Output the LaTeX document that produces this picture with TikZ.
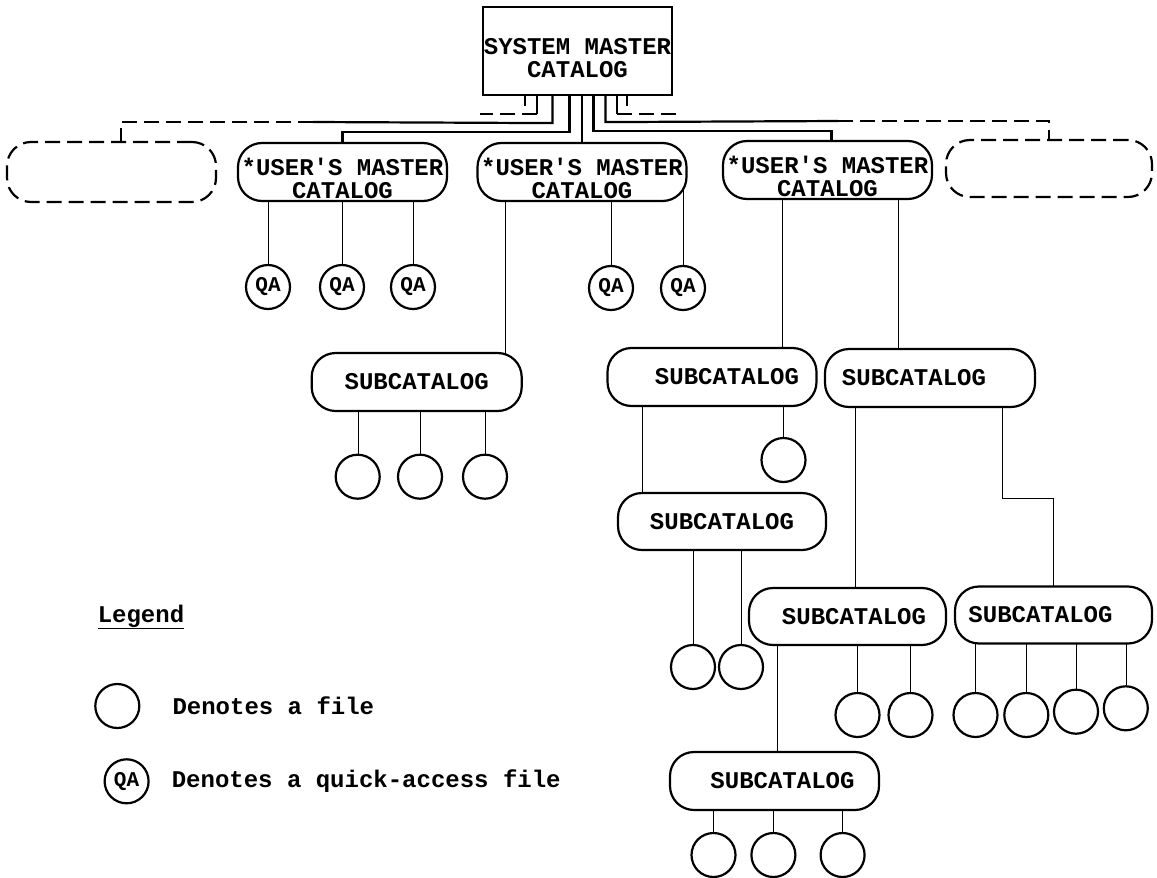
\documentclass[tikz,border=0pt]{standalone}
\usepackage{fontspec}
\setmonofont{Liberation Mono}
\usetikzlibrary{positioning,calc,backgrounds}

\tikzset{
  catbox/.style={draw, fill=white, rounded corners=24pt, minimum height=58pt, inner sep=0pt,
    font=\ttfamily\bfseries\fontsize{24}{23}\selectfont},
  usercat/.style={catbox, minimum width=209pt, align=center},
  ghost/.style={catbox, dash pattern=on 15pt off 7pt},
  dashline/.style={dash pattern=on 15pt off 7pt},
  file/.style={draw, circle, fill=white, minimum size=44pt, inner sep=0pt},
  qafile/.style={file, font=\ttfamily\bfseries\fontsize{21}{21}\selectfont},
  legtext/.style={inner sep=0pt, font=\ttfamily\bfseries\fontsize{24}{24}\selectfont}
}
% invisible strut that pushes a two line label down in its box
\newcommand{\lowstrut}[1]{\rule{0pt}{#1}}

\begin{document}
\begin{tikzpicture}[x=1pt,y=-1pt,line width=2.2pt]
\useasboundingbox (0,0) rectangle (1157,878);

\node[draw, fill=white, minimum width=189pt, minimum height=88pt, inner sep=0pt, align=center,
  font=\ttfamily\bfseries\fontsize{24}{23}\selectfont] (sys) at (577.5,51) {\lowstrut{30pt}SYSTEM MASTER\\CATALOG};

% user's master catalogs
\node[ghost, minimum width=209pt, minimum height=60pt] (dashl) at (111.5,172) {};
\node[usercat] (userl) at (342.5,172) {\lowstrut{30pt}*USER'S MASTER\\CATALOG};
\node[usercat] (userm) at (582,172) {\lowstrut{30pt}*USER'S MASTER\\CATALOG};
\node[usercat] (userr) at (827.5,170) {\lowstrut{30pt}*USER'S MASTER\\CATALOG};
\node[ghost, minimum width=206pt, minimum height=57pt] (dashr) at (1049,168.5) {};

\node[qafile] (qa1) at (268,287) {QA};
\node[qafile] (qa2) at (342,287) {QA};
\node[qafile] (qa3) at (413,287) {QA};
\node[qafile] (qa4) at (611,288) {QA};
\node[qafile] (qa5) at (683,288) {QA};

% subcatalogs
\node[catbox, minimum width=210pt] (suba) at (416.7,382) {SUBCATALOG};
\node[catbox, minimum width=209pt] (subb) at (712,377) {\hspace*{30pt}SUBCATALOG};
\node[catbox, minimum width=208pt, minimum height=57pt] (subc) at (722,521.5) {SUBCATALOG};
\node[catbox, minimum width=210pt] (subd) at (930,378) {SUBCATALOG\hspace*{32pt}};
\node[catbox, minimum width=197pt, minimum height=57pt] (sube) at (847.5,616.5) {\hspace*{13pt}SUBCATALOG};
\node[catbox, minimum width=197pt, minimum height=57pt] (subf) at (1053.5,615) {SUBCATALOG\hspace*{26pt}};
\node[catbox, minimum width=209pt] (subg) at (774.5,781) {\hspace*{16pt}SUBCATALOG};

% files
\node[file] (fa1) at (357.7,476.7) {};
\node[file] (fa2) at (420,476.7) {};
\node[file] (fa3) at (485,476.7) {};
\node[file] (fb1) at (783.5,460) {};
\node[file] (fc1) at (693,667) {};
\node[file] (fc2) at (741,667) {};
\node[file] (fe1) at (857.5,715) {};
\node[file] (fe2) at (910.5,715) {};
\node[file] (ff1) at (975.5,715) {};
\node[file] (ff2) at (1026.3,715) {};
\node[file] (ff3) at (1076,711.7) {};
\node[file] (ff4) at (1125.8,708.3) {};
\node[file] (fg1) at (713.5,855) {};
\node[file] (fg2) at (773.4,855) {};
\node[file] (fg3) at (842.6,855) {};

% legend
\node[legtext] (leg) at (141,617) {\underline{Legend}};
\node[file] (lf) at (117.3,706) {};
\node[legtext, right=31pt of lf] (lftext) {Denotes a file};
\node[qafile] (lq) at (126.6,781.3) {QA};
\node[legtext, right=21pt of lq] (lqtext) {Denotes a quick-access file};

% from the system master catalog
\coordinate (lbreak) at (313,122);
\coordinate (rbreak) at (838,121);
\draw ($(sys.south)+(-52.5,0)$) -- ++(0,10);
\draw ($(sys.south)+(-40.5,0)$) -- ++(0,18) coordinate (lstub);
\draw[dashline] (lstub) -- ++(-57,0);
\draw ($(sys.south)+(-25,0)$) -- ++(0,27) -- (lbreak);
\draw[dashline] (lbreak) -| ($(dashl.north)+(9.5,0)$);
\draw ($(sys.south)+(-8,0)$) -- ++(0,36) -| (userl.north);
\draw (sys.south -| userm.north) -- (userm.north);
\draw ($(sys.south)+(16,0)$) -- ++(0,35) -| ($(userr.north)+(4,0)$);
\draw ($(sys.south)+(28,0)$) -- ++(0,26) -- (rbreak);
\draw[dashline] (rbreak) -| (dashr.north);
\draw ($(sys.south)+(39.5,0)$) -- ++(0,18) coordinate (rstub);
\draw[dashline] (rstub) -- ++(60,0);
\draw ($(sys.south)+(49.5,0)$) -- ++(0,10);

\begin{scope}[on background layer]
\draw (qa1) -- (qa1 |- userl.center);
\draw (qa2) -- (qa2 |- userl.center);
\draw (qa3) -- (qa3 |- userl.center);
\draw (qa4) -- (qa4 |- userm.center);
\draw (qa5) -- (qa5 |- userm.center);
\draw ($(suba.center)+(88.3,0)$) -- ($(userm.center)+(-77,0)$);
\draw ($(subb.center)+(70,0)$) -- ($(userr.center)+(-45.5,0)$);
\draw ($(subd.center)+(-32,0)$) -- ($(userr.center)+(70.5,0)$);
\draw (fa1) -- (fa1 |- suba.center);
\draw (fa2) -- (fa2 |- suba.center);
\draw (fa3) -- (fa3 |- suba.center);
\draw (fb1) -- (fb1 |- subb.center);
\draw ($(subb.center)+(-70,0)$) -- ($(subc.center)+(-80,0)$);
\draw (fc1) -- (fc1 |- subc.center);
\draw (fc2) -- (fc2 |- subc.center);
\draw ($(subd.center)+(-74.5,0)$) -- ($(sube.center)+(8,0)$);
\draw ($(subd.center)+(71.7,0)$) -- ++(0,120) -| (subf.center);
\draw (fe1) -- (fe1 |- sube.center);
\draw (fe2) -- (fe2 |- sube.center);
\draw ($(sube.center)+(-70,0)$) -- ($(subg.center)+(3,0)$);
\draw (ff1) -- (ff1 |- subf.center);
\draw (ff2) -- (ff2 |- subf.center);
\draw (ff3) -- (ff3 |- subf.center);
\draw (ff4) -- (ff4 |- subf.center);
\draw (fg1) -- (fg1 |- subg.center);
\draw (fg2) -- (fg2 |- subg.center);
\draw (fg3) -- (fg3 |- subg.center);
\end{scope}
\end{tikzpicture}
\end{document}
